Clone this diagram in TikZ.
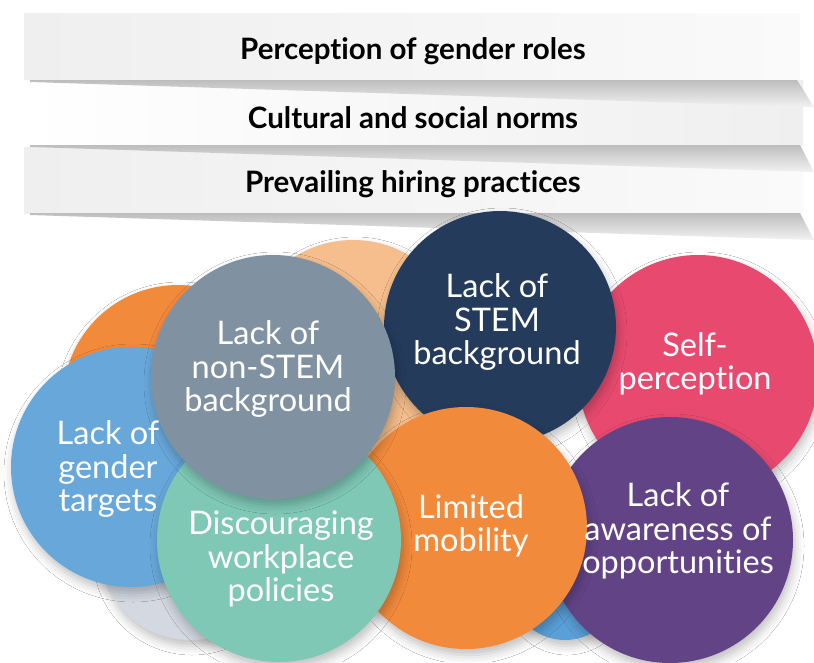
\documentclass[tikz,border=0pt]{standalone}
\usepackage{fontspec}
\setmainfont{Lato}[Ligatures={NoCommon}]
\usetikzlibrary{shadows.blur}
\definecolor{navyc}{HTML}{243B5C}
\definecolor{pinkc}{HTML}{E84A6F}
\definecolor{purplec}{HTML}{624486}
\definecolor{orangec}{HTML}{F28A3C}
\definecolor{tealc}{HTML}{80C8B6}
\definecolor{grayc}{HTML}{8092A1}
\definecolor{bluec}{HTML}{68A7DA}
\definecolor{peachc}{HTML}{F5BE8C}
\definecolor{paleblue}{HTML}{D3D8E1}
\definecolor{smallblue}{HTML}{5AA0D8}
\definecolor{bandgray}{HTML}{EFEFEF}
\definecolor{bandlight}{HTML}{FAFAFA}
\definecolor{wedgedark}{HTML}{BDBDBD}
\definecolor{wedgelight}{HTML}{F2F2F2}
\tikzset{
  blob/.style={circle, inner sep=0pt, draw=none,
    blur shadow={shadow xshift=2pt, shadow yshift=-6pt, shadow blur radius=9pt, shadow opacity=25}},
  lbl/.style={text=white, align=center, font=\fontsize{32.5}{33.5}\selectfont},
  bannertext/.style={text=black, font=\bfseries\fontsize{29.5}{30}\selectfont},
  wedge/.style={top color=wedgedark, bottom color=wedgelight, draw=none}
}
\begin{document}
\begin{tikzpicture}[x=1pt, y=-1pt]
\useasboundingbox (0,0) rectangle (814,662);
\fill[white] (0,0) rectangle (814,662);
% banners
\shade[left color=bandgray, right color=bandlight] (24,13) rectangle (800,80);
\shade[left color=white, right color=bandgray] (24,80) rectangle (803,145);
\shade[left color=bandgray, right color=bandlight] (24,147) rectangle (803,213);
\shade[wedge] (30,80) -- (797,80) -- (814,107) -- (30,82) -- cycle;
\shade[wedge] (30,145) -- (800,145) -- (814,172) -- (30,147) -- cycle;
\shade[wedge] (30,213) -- (800,213) -- (814,240) -- (30,215) -- cycle;
\node[bannertext] (b1) at (413,51) {Perception of gender roles};
\node[bannertext] (b2) at (413,118) {Cultural and social norms};
\node[bannertext] (b3) at (413,184) {Prevailing hiring practices};
% background circles
\node[blob, fill=peachc, minimum size=220pt] (peach) at (353,350) {};
\node[blob, fill=orangec, minimum size=230pt] (orangetl) at (178,400) {};
\node[blob, fill=paleblue, minimum size=180pt] (pale) at (190,550) {};
\node[blob, fill=smallblue, minimum size=110pt] (sblue) at (565,585) {};
\node[blob, fill=pinkc, minimum size=240pt] (pink) at (698,375) {};
\node[blob, fill=purplec, minimum size=246pt] (purple) at (670,540) {};
\node[blob, fill=navyc, minimum size=232pt] (navy) at (500,327) {};
\node[blob, fill=orangec, minimum size=242pt] (orangelm) at (466,528) {};
\node[blob, fill=bluec, minimum size=240pt] (blue) at (131,467) {};
\node[blob, fill=tealc, minimum size=244pt] (teal) at (279,540) {};
\node[blob, fill=grayc, minimum size=244pt] (gray) at (273,377) {};
% labels
\node[lbl] (tnavy) at (497,322) {Lack of\\STEM\\background};
\node[lbl] (tpink) at (695,364) {Self-\\perception};
\node[lbl] (tpurple) at (678,531) {Lack of\\awareness of\\opportunities};
\node[lbl] (torange) at (471,526) {Limited\\mobility};
\node[lbl] (tblue) at (108,469) {Lack of\\gender\\targets};
\node[lbl] (tteal) at (281,559) {Discouraging\\workplace\\policies};
\node[lbl] (tgray) at (268,369) {Lack of\\non-STEM\\background};
\end{tikzpicture}
\end{document}
